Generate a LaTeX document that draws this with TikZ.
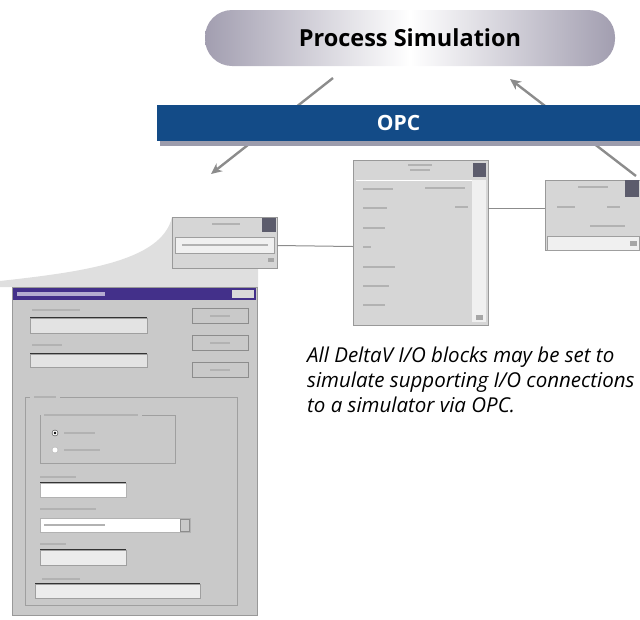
\documentclass[tikz,border=0pt]{standalone}
\usepackage{fontspec}
\setmainfont{Open Sans}
\usetikzlibrary{arrows.meta}
\definecolor{opcblue}{HTML}{134B87}
\definecolor{pillgray}{HTML}{A29EB0}
\definecolor{winface}{HTML}{C9C9C9}
\definecolor{blockface}{HTML}{D6D6D6}
\definecolor{linkgray}{HTML}{8C8C8C}
\definecolor{titlepurple}{HTML}{43308A}
\definecolor{knob}{HTML}{5C5C6C}
\definecolor{barshadow}{HTML}{9C9CAC}
\tikzset{
  simpill/.style={rectangle, rounded corners=27pt, minimum width=410pt,
    minimum height=56pt, left color=pillgray, right color=pillgray,
    middle color=white, font=\bfseries\fontsize{23.5}{26}\selectfont},
  opcbar/.style={rectangle, fill=opcblue, text=white, minimum width=483pt,
    minimum height=36pt, font=\bfseries\fontsize{21}{23}\selectfont},
  simarrow/.style={draw=linkgray, line width=2.4pt,
    -{Stealth[length=11pt,width=10pt]}},
  link/.style={draw=linkgray, line width=1pt},
  fbblock/.style={rectangle, draw=gray!80, fill=blockface, inner sep=0pt},
  textbar/.style={fill=gray!60},
  etched/.style={draw=gray!75, line width=0.8pt},
  winbutton/.style={draw=gray!90, fill=winface, line width=0.8pt},
  note/.style={align=left, inner sep=0pt,
    font=\itshape\fontsize{20.5}{25}\selectfont}
}
\begin{document}
\begin{tikzpicture}[x=1pt,y=-1pt]
\useasboundingbox (0,0) rectangle (640,619);

% simulator and the OPC layer
\node[simpill] (sim) at (410,38) {Process Simulation};
\coordinate (leftTail) at (333,78);
\coordinate (leftTip) at (211,174);
\coordinate (rightTail) at (636,176);
\coordinate (rightTip) at (510,79);
\draw[simarrow] (leftTail) -- (leftTip);
\draw[simarrow] (rightTail) -- (rightTip);
\fill[barshadow] (160,108) rectangle (645,146);
\node[opcbar] (opc) at (398.5,123) {OPC};

% zoom callout from the block to its dialog
\fill[gray!25] (172,217) .. controls (162,262) and (80,272) .. (0,281)
  -- (0,287) -- (258,287) -- (258,268) -- (172,268) -- cycle;

% function blocks
\node[fbblock, minimum width=105pt, minimum height=51pt] (lblock) at (224.5,242.5) {};
\node[fbblock, minimum width=135pt, minimum height=165pt] (cblock) at (420.5,242.5) {};
\node[fbblock, minimum width=100pt, minimum height=70pt] (rblock) at (595,215) {};
\draw[link] ([yshift=-3pt]lblock.east) -- ([yshift=-4pt]cblock.west);
\draw[link] ([yshift=34.5pt]cblock.east) -- ([yshift=7pt]rblock.west);

% left block
\fill[knob] (262,218) rectangle (276,232);
\fill[textbar] (212,223) rectangle (240,225);
\draw[etched, fill=gray!12] (175,237) rectangle (274,253);
\fill[textbar] (182,244) rectangle (268,246);
\fill[gray!70] (268,258) rectangle (274,262);

% center block
\fill[knob] (473,163) rectangle (486,177);
\fill[textbar] (408,164) rectangle (432,166);
\fill[textbar] (410,169) rectangle (430,171);
\draw[white, line width=1pt] (356,180) -- (472,180);
\fill[gray!12] (472,180) rectangle (486,322);
\foreach \y/\w in {188/30, 207/24, 227/22, 246/8, 266/32, 285/26, 304/22}
  \fill[textbar] (363,\y) rectangle ++(\w,2);
\fill[textbar] (425,187) rectangle (465,189);
\fill[textbar] (455,206) rectangle (468,208);
\fill[gray!70] (476,315) rectangle (483,320);

% right block
\fill[knob] (625,180) rectangle (639,197);
\fill[textbar] (578,186) rectangle (608,188);
\fill[textbar] (557,206) rectangle (575,208);
\fill[textbar] (607,206) rectangle (620,208);
\fill[textbar] (590,225) rectangle (625,227);
\draw[etched, fill=gray!12] (547,236) rectangle (639,250);
\fill[gray!70] (630,241) rectangle (637,246);

% properties dialog
\draw[gray!80, fill=winface] (12,287) rectangle (257,615);
\fill[titlepurple] (13,288) rectangle (256,300);
\fill[white!60!titlepurple] (17,292) rectangle (105,296);
\fill[gray!30] (232,290) rectangle (254,298);
\fill[textbar] (32,309) rectangle (80,311);
\draw[gray!40!black] (30,317) -- (147,317);
\draw[etched, fill=gray!22] (30,318) rectangle (147,333);
\fill[textbar] (32,344) rectangle (62,346);
\draw[gray!40!black] (30,353) -- (147,353);
\draw[etched, fill=gray!22] (30,354) rectangle (147,367);
\foreach \y in {308,335,362} {
  \draw[winbutton] (192,\y) rectangle ++(56,15);
  \fill[textbar] (210,\y+7) rectangle ++(20,2);
}
\fill[textbar] (34,396) rectangle (56,398);
\draw[etched] (60,397) -- (237,397) -- (237,605) -- (25,605) -- (25,397) -- (30,397);
\draw[etched] (142,415) -- (175,415) -- (175,463) -- (40,463) -- (40,415);
\fill[textbar] (44,414) rectangle (138,416);
\draw[gray!40!black, fill=white] (55,433) circle (3pt);
\fill[black] (55,433) circle (1.3pt);
\draw[gray!60, fill=white] (55,450) circle (3pt);
\fill[textbar] (64,432) rectangle (95,434);
\fill[textbar] (64,449) rectangle (100,451);
\fill[textbar] (40,476) rectangle (76,478);
\draw[gray!40!black, line width=1pt] (40,482) -- (126,482);
\draw[gray!60, fill=white] (40,483) rectangle (126,497);
\fill[textbar] (40,508) rectangle (96,510);
\draw[gray!60, fill=white] (40,518) rectangle (190,532);
\draw[winbutton] (180,519) rectangle (189,531);
\fill[textbar] (44,524) rectangle (105,526);
\fill[textbar] (40,543) rectangle (66,545);
\draw[gray!40!black, line width=1pt] (40,549) -- (126,549);
\draw[etched, fill=gray!15] (40,550) rectangle (126,565);
\fill[textbar] (42,578) rectangle (80,580);
\draw[gray!40!black] (35,583) -- (200,583);
\draw[etched, fill=gray!15] (35,584) rectangle (200,598);

% explanation
\node[note, anchor=north west] (note) at (307,347)
  {All DeltaV I/O blocks may be set to\\
   simulate supporting I/O connections\\
   to a simulator via OPC.};
\end{tikzpicture}
\end{document}
